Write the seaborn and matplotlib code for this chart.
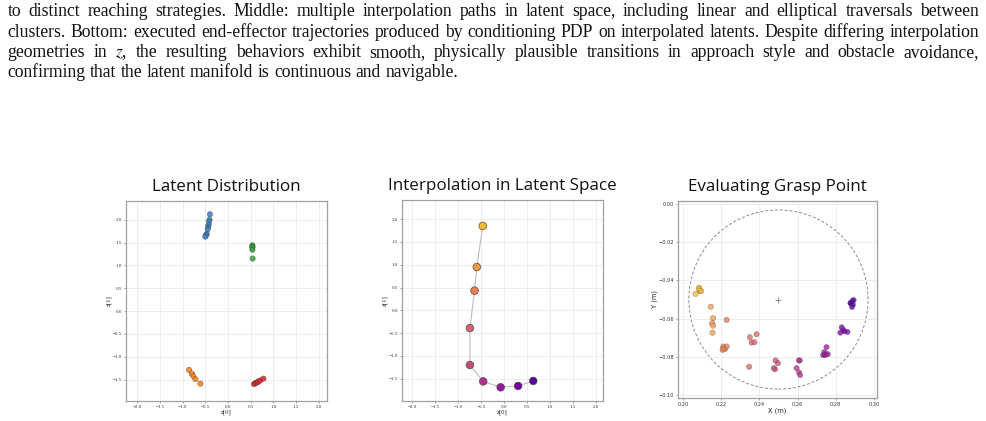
import numpy as np
import pandas as pd
import matplotlib
matplotlib.use("Agg")
import matplotlib.pyplot as plt
import seaborn as sns
from matplotlib.transforms import IdentityTransform
from matplotlib.patches import Circle

sns.set_theme(style="whitegrid")
plt.rcParams["font.family"] = ["DejaVu Sans"]
plt.rcParams["mathtext.fontset"] = "stix"
plt.rcParams["axes.unicode_minus"] = True

# ---------------- data ----------------
caption_lines = [
    "to distinct reaching strategies. Middle: multiple interpolation paths in latent space, including linear and elliptical traversals between",
    "clusters. Bottom: executed end-effector trajectories produced by conditioning PDP on interpolated latents. Despite differing interpolation",
    "geometries in $z$, the resulting behaviors exhibit smooth, physically plausible transitions in approach style and obstacle avoidance,",
    "confirming that the latent manifold is continuous and navigable.",
]

titles = ["Latent Distribution", "Interpolation in Latent Space", "Evaluating Grasp Point"]

# Panel 1: latent clusters
blue_z0 = [-0.40, -0.41, -0.42, -0.43, -0.44, -0.45, -0.47, -0.49, -0.50]
blue_z1 = [2.12, 2.00, 1.95, 1.88, 1.84, 1.79, 1.69, 1.66, 1.63]
green_z0 = [0.536, 0.536, 0.536, 0.536, 0.54]
green_z1 = [1.44, 1.41, 1.39, 1.34, 1.15]
orange_z0 = [-0.86, -0.80, -0.77, -0.72, -0.61]
orange_z1 = [-1.29, -1.37, -1.42, -1.49, -1.59]
red_z0 = [0.57, 0.60, 0.62, 0.65, 0.67, 0.71, 0.78]
red_z1 = [-1.60, -1.58, -1.57, -1.56, -1.54, -1.52, -1.48]
cluster_names = ["blue", "green", "orange", "red"]
cluster_colors = ["#3a80c0", "#36a336", "#ff800e", "#e3262b"]

# Panel 2: interpolation path
interp_z0 = [-0.46, -0.59, -0.64, -0.74, -0.74, -0.45, -0.07, 0.31, 0.64]
interp_z1 = [1.85, 0.95, 0.43, -0.39, -1.20, -1.56, -1.69, -1.66, -1.55]
interp_cmap_pos = [0.85, 0.7625, 0.675, 0.5875, 0.50, 0.4125, 0.325, 0.2375, 0.15]

# Panel 3: grasp points (X, Y in m) per interpolation step
grasp_step = ([0] * 5 + [1] * 5 + [2] * 6 + [3] * 5 + [4] * 4 + [5] * 5
              + [6] * 6 + [7] * 5 + [8] * 6)
grasp_x = [0.2084, 0.2088, 0.2065, 0.2084, 0.2094,
           0.2145, 0.2157, 0.2152, 0.2157, 0.2154,
           0.2228, 0.2210, 0.2219, 0.2228, 0.2207, 0.2213,
           0.2350, 0.2385, 0.2359, 0.2374, 0.2346,
           0.2485, 0.2497, 0.2476, 0.2482,
           0.2612, 0.2607, 0.2595, 0.2608, 0.2614,
           0.2752, 0.2740, 0.2748, 0.2734, 0.2759, 0.2743,
           0.2832, 0.2839, 0.2825, 0.2846, 0.2862,
           0.2879, 0.2888, 0.2894, 0.2886, 0.2891, 0.2878]
grasp_y = [-0.0438, -0.0454, -0.0471, -0.0447, -0.0456,
           -0.0538, -0.0598, -0.0625, -0.0637, -0.0674,
           -0.0607, -0.0747, -0.0759, -0.0747, -0.0764, -0.0758,
           -0.0698, -0.0682, -0.0726, -0.0724, -0.0853,
           -0.0820, -0.0834, -0.0860, -0.0866,
           -0.0820, -0.0820, -0.0860, -0.0883, -0.0897,
           -0.0750, -0.0776, -0.0787, -0.0792, -0.0787, -0.0792,
           -0.0646, -0.0660, -0.0674, -0.0667, -0.0670,
           -0.0517, -0.0508, -0.0503, -0.0539, -0.0527, -0.0520]
target_x = [0.25]
target_y = [-0.05]
target_radius = 0.047

lat_xticks = [-2.0, -1.5, -1.0, -0.5, 0.0, 0.5, 1.0, 1.5, 2.0]
lat_yticks = [-1.5, -1.0, -0.5, 0.0, 0.5, 1.0, 1.5, 2.0]
grasp_xticks = [0.20, 0.22, 0.24, 0.26, 0.28, 0.30]
grasp_yticks = [-0.10, -0.08, -0.06, -0.04, -0.02, 0.00]

# ---------------- figure ----------------
W, H = 987, 421
fig = plt.figure(figsize=(W / 100, H / 100), dpi=100)
fig.patch.set_facecolor("white")
renderer = fig.canvas.get_renderer()

SERIF = ["Liberation Serif", "DejaVu Serif"]
TITLE_FONT = ["Open Sans", "DejaVu Sans"]


def measure(txt, size, family):
    t = fig.text(0, 0, txt, fontsize=size, family=family, transform=IdentityTransform())
    w = t.get_window_extent(renderer).width
    t.remove()
    return w


x_left, x_right = 7.5, 979.0
# caption font size: the longest justified line fits with natural spacing
longest = max(measure(l, 10.0, SERIF) for l in caption_lines[:3])
cap_size = 10.0 * (x_right - x_left - 3.0) / longest
baselines = [16.5, 36.7, 56.8, 76.9]
space_w = measure("a a", cap_size, SERIF) - measure("aa", cap_size, SERIF)
for i, line in enumerate(caption_lines):
    words = line.split(" ")
    widths = [measure(w, cap_size, SERIF) for w in words]
    if i < len(caption_lines) - 1:
        gap = (x_right - x_left - sum(widths)) / (len(words) - 1)
    else:
        gap = space_w
    x = x_left
    for w, wd in zip(words, widths):
        fig.text(x, H - baselines[i], w, fontsize=cap_size, family=SERIF,
                 va="baseline", ha="left", color="#111111",
                 transform=IdentityTransform())
        x += wd + gap


def box(l, t, r, b):
    return [l / W, (H - b) / H, (r - l) / W, (b - t) / H]


ax1 = fig.add_axes(box(126, 201, 327, 401))
ax2 = fig.add_axes(box(402, 200, 603, 401))
ax3 = fig.add_axes(box(678, 201, 877, 398))

title_size = 12.0 * 148.0 / measure(titles[0], 12.0, TITLE_FONT)


def style(ax, xticks, yticks, tick_family):
    ax.set_facecolor("white")
    for s in ax.spines.values():
        s.set_visible(True)
        s.set_color("#a0a0a0")
        s.set_linewidth(0.9)
    ax.grid(True, color="#ebebeb", linewidth=0.6)
    ax.set_axisbelow(True)
    ax.set_xticks(xticks)
    ax.set_yticks(yticks)
    ax.tick_params(axis="both", labelsize=3.6, length=1.5, width=0.4, pad=1.2,
                   colors="#555555", labelcolor="#333333", bottom=True, left=True)
    for lbl in ax.get_xticklabels() + ax.get_yticklabels():
        lbl.set_family(tick_family)


# Panel 1
df1 = pd.DataFrame({
    "z0": blue_z0 + green_z0 + orange_z0 + red_z0,
    "z1": blue_z1 + green_z1 + orange_z1 + red_z1,
    "cluster": (["blue"] * len(blue_z0) + ["green"] * len(green_z0)
                + ["orange"] * len(orange_z0) + ["red"] * len(red_z0)),
})
sns.scatterplot(data=df1, x="z0", y="z1", hue="cluster", hue_order=cluster_names,
                palette=cluster_colors, s=15, alpha=0.85, edgecolor="#3a3a3a",
                linewidth=0.3, legend=False, ax=ax1, zorder=3)
ax1.set_xlim(-2.25, 2.18)
ax1.set_ylim(-1.97, 2.41)
style(ax1, lat_xticks, lat_yticks, SERIF)
ax1.set_xlabel("z[0]", fontsize=4.8, family=SERIF, labelpad=0.5, color="#222222")
ax1.set_ylabel("z[1]", fontsize=4.8, family=SERIF, labelpad=0.5, color="#222222")
ax1.set_title(titles[0], fontsize=title_size, family=TITLE_FONT, pad=7.4, color="#111111")

# Panel 2
plasma = matplotlib.colormaps["plasma"]
interp_colors = [plasma(p) for p in interp_cmap_pos]
df2 = pd.DataFrame({"z0": interp_z0, "z1": interp_z1, "step": list(range(len(interp_z0)))})
sns.lineplot(data=df2, x="z0", y="z1", sort=False, estimator=None, color="#bdbdbd",
             linewidth=0.8, ax=ax2, zorder=2)
sns.scatterplot(data=df2, x="z0", y="z1", hue="step", palette=interp_colors, s=30,
                edgecolor="#4a4a4a", linewidth=0.5, legend=False, ax=ax2, zorder=3)
ax2.set_xlim(-2.22, 2.16)
ax2.set_ylim(-1.99, 2.42)
style(ax2, lat_xticks, lat_yticks, SERIF)
ax2.set_xlabel("z[0]", fontsize=4.8, family=SERIF, labelpad=0.5, color="#222222")
ax2.set_ylabel("z[1]", fontsize=4.8, family=SERIF, labelpad=0.5, color="#222222")
ax2.set_title(titles[1], fontsize=title_size, family=TITLE_FONT, pad=7.4, color="#111111")

# Panel 3
df3 = pd.DataFrame({"X": grasp_x, "Y": grasp_y, "step": grasp_step})
ax3.add_patch(Circle((target_x[0], target_y[0]), target_radius, fill=False,
                     edgecolor="#8a8a8a", linewidth=0.7, linestyle=(0, (3, 2)), zorder=2))
sns.scatterplot(x=target_x, y=target_y, marker="+", color="#808080", s=14,
                linewidth=0.6, legend=False, ax=ax3, zorder=3)
sns.scatterplot(data=df3, x="X", y="Y", hue="step", palette=interp_colors, s=15,
                alpha=0.75, edgecolor="#555555", linewidth=0.3, legend=False, ax=ax3, zorder=4)
ax3.set_xlim(0.1973, 0.3017)
ax3.set_ylim(-0.1017, 0.0017)
style(ax3, grasp_xticks, grasp_yticks, ["DejaVu Sans"])
ax3.set_xlabel("X (m)", fontsize=4.8, labelpad=0.5, color="#222222")
ax3.set_ylabel("Y (m)", fontsize=4.8, labelpad=0.5, color="#222222")
ax3.set_title(titles[2], fontsize=title_size, family=TITLE_FONT, pad=7.4, color="#111111")

fig.savefig("out.png", dpi=100, facecolor="white")
